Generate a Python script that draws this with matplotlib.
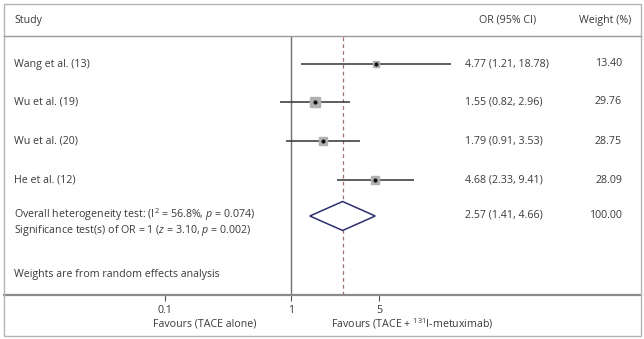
import matplotlib
matplotlib.use("Agg")
import matplotlib.pyplot as plt
from matplotlib.patches import Rectangle, Polygon
from matplotlib.lines import Line2D
import numpy as np

FONT = "Open Sans"
plt.rcParams['font.family'] = [FONT, 'DejaVu Sans']
plt.rcParams['mathtext.fontset'] = 'custom'
plt.rcParams['mathtext.rm'] = FONT
plt.rcParams['mathtext.it'] = FONT + ':italic'

studies = ["Wang et al. (13)", "Wu et al. (19)", "Wu et al. (20)", "He et al. (12)"]
or_vals = [4.77, 1.55, 1.79, 4.68]
ci_low = [1.21, 0.82, 0.91, 2.33]
ci_high = [18.78, 2.96, 3.53, 9.41]
weights = [13.40, 29.76, 28.75, 28.09]
pooled_or = 2.57
pooled_low = 1.41
pooled_high = 4.66
pooled_weight = 100.00
tick_vals = [0.1, 1, 5]
tick_labels = ["0.1", "1", "5"]

W, H = 644, 339
fig = plt.figure(figsize=(W / 100, H / 100), dpi=100)

def fx(px):
    return px / W

def fy(py):
    return 1 - py / H

TXT = "#3a3a3a"
FS = 7.7

# outer frame
fig.add_artist(Rectangle((fx(4), fy(336)), fx(641) - fx(4), fy(4) - fy(336),
                         transform=fig.transFigure, fill=False, ec="#b5b5b5", lw=1.0))
# header separator
fig.add_artist(Line2D([fx(4), fx(641)], [fy(36), fy(36)], transform=fig.transFigure,
                      color="#9a9a9a", lw=1.0))

# plot axes: spans frame width, from header line to axis line
ax_left, ax_right, ax_top, ax_bot = 4, 641, 36, 295
ax = fig.add_axes([fx(ax_left), fy(ax_bot), fx(ax_right) - fx(ax_left), fy(ax_top) - fy(ax_bot)])
ax.set_xscale('log')
px_per_dec = 126.0
x1_px = 291.0
xmin = 10 ** ((ax_left - x1_px) / px_per_dec)
xmax = 10 ** ((ax_right - x1_px) / px_per_dec)
ax.set_xlim(xmin, xmax)
ax.set_ylim(ax_bot, ax_top)  # y in pixel rows (inverted)
for s in ['top', 'left', 'right']:
    ax.spines[s].set_visible(False)
ax.spines['bottom'].set_color("#8a8a8a")
ax.spines['bottom'].set_linewidth(1.6)
ax.set_yticks([])
ax.set_xticks(tick_vals)
ax.set_xticklabels(tick_labels)
ax.minorticks_off()
ax.tick_params(axis='x', length=4, width=0.8, color="#555555", labelsize=FS,
               labelcolor=TXT, pad=3)
ax.patch.set_alpha(0)

row_y = [64, 102, 141, 180]
pooled_y = 216

# null line
ax.axvline(1, color="#6e6e6e", lw=1.0)
# pooled dashed line
ax.axvline(pooled_or, color="#a07070", lw=0.9, ls=(0, (3, 2.5)))

for i in range(len(studies)):
    y = row_y[i]
    ax.plot([ci_low[i], ci_high[i]], [y, y], color="#333333", lw=1.1, solid_capstyle='butt', zorder=2)
    ms = 1.19 * np.sqrt(weights[i])
    ax.plot([or_vals[i]], [y], marker='s', ms=ms, mfc="#b0b0b0", mec="#b0b0b0", zorder=3)
    ax.plot([or_vals[i]], [y], marker='o', ms=2.0, mfc="#111111", mec="#111111", zorder=4)

# diamond
dh = 14.5
dia = Polygon([[pooled_low, pooled_y], [pooled_or, pooled_y - dh], [pooled_high, pooled_y],
               [pooled_or, pooled_y + dh]], closed=True, fill=True, fc="white",
              ec="#2e2e6e", lw=1.1, zorder=3)
ax.add_patch(dia)

# Text
fig.text(fx(14), fy(20), "Study", fontsize=FS, color=TXT, va='center', ha='left')
fig.text(fx(508), fy(20), "OR (95% CI)", fontsize=FS, color=TXT, va='center', ha='center')
fig.text(fx(631), fy(20), "Weight (%)", fontsize=FS, color=TXT, va='center', ha='right')

for i in range(len(studies)):
    y = row_y[i]
    fig.text(fx(14), fy(y), studies[i], fontsize=FS, color=TXT, va='center', ha='left')
    fig.text(fx(465), fy(y), f"{or_vals[i]:.2f} ({ci_low[i]:.2f}, {ci_high[i]:.2f})",
             fontsize=FS, color=TXT, va='center', ha='left')
    fig.text(fx(622), fy(y), f"{weights[i]:.2f}", fontsize=FS, color=TXT, va='center', ha='right')

fig.text(fx(14), fy(pooled_y + 6),
         "Overall heterogeneity test: (I$^2$ = 56.8%, $p$ = 0.074)\n"
         "Significance test(s) of OR = 1 ($z$ = 3.10, $p$ = 0.002)",
         fontsize=FS, color=TXT, va='center', ha='left', linespacing=1.0)
fig.text(fx(465), fy(pooled_y - 1), f"{pooled_or:.2f} ({pooled_low:.2f}, {pooled_high:.2f})",
         fontsize=FS, color=TXT, va='center', ha='left')
fig.text(fx(622), fy(pooled_y - 1), f"{pooled_weight:.2f}", fontsize=FS, color=TXT, va='center', ha='right')
fig.text(fx(14), fy(275), "Weights are from random effects analysis", fontsize=FS, color=TXT,
         va='center', ha='left')

fig.text(fx(205), fy(324), "Favours (TACE alone)", fontsize=FS, color=TXT, va='center', ha='center')
fig.text(fx(412), fy(324), r"Favours (TACE + $^{131}$I-metuximab)", fontsize=FS, color=TXT,
         va='center', ha='center')

fig.savefig("out.png", dpi=100, facecolor="white")
